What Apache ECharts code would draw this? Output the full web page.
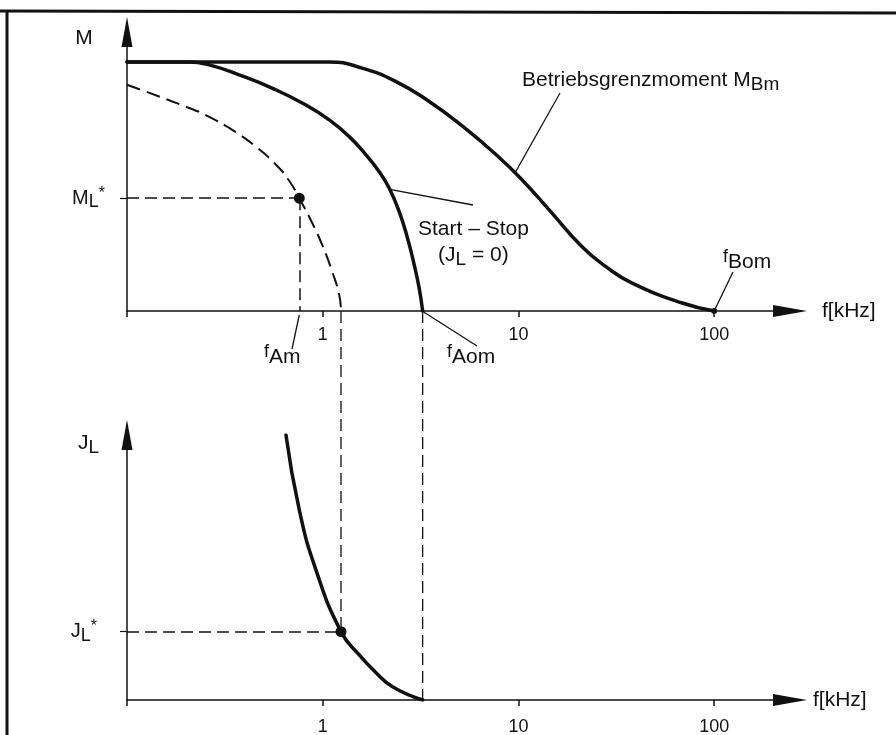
<!DOCTYPE html>
<html>
<head>
<meta charset="utf-8">
<title>Schrittmotor: Grenzmomente und Lastträgheit</title>
<script src="https://cdn.jsdelivr.net/npm/echarts@6/dist/echarts.min.js"></script>
<style>
  html, body { margin: 0; padding: 0; background: #fff; }
  #chart { width: 896px; height: 735px; }
</style>
</head>
<body>
<div id="chart"></div>
<script>
// Frequenzachse (logarithmisch, kHz)
const fTicks = [1, 10, 100];
const fMin = 0.1;
const fMax = 244;

// Betriebsgrenzmoment M_Bm
const fBm = [0.1, 1.08, 1.59, 2.37, 3.5, 5.16, 7.7, 10.45, 14.35, 21.2, 28.1, 38.1, 68.7, 100];
const mBm = [1, 1, 0.975, 0.921, 0.841, 0.743, 0.627, 0.526, 0.406, 0.257, 0.177, 0.112, 0.032, 0];

// Start-Stop-Kennlinie (J_L = 0)
const fSs = [0.1, 0.208, 0.263, 0.374, 0.554, 0.821, 1.08, 1.366, 1.663, 1.944, 2.187, 2.459, 2.712, 2.934, 3.112, 3.24];
const mSs = [1, 1, 0.988, 0.948, 0.894, 0.827, 0.767, 0.7, 0.627, 0.559, 0.493, 0.399, 0.292, 0.185, 0.091, 0];

// Start-Stop-Kennlinie mit Last J_L* (gestrichelt)
const fSsLast = [0.1, 0.208, 0.263, 0.345, 0.457, 0.579, 0.675, 0.759, 0.884, 0.994, 1.118, 1.214, 1.24];
const mSsLast = [0.908, 0.815, 0.779, 0.727, 0.659, 0.586, 0.522, 0.453, 0.353, 0.265, 0.158, 0.064, 0];

// Lastträgheitsmoment J_L über der Startfrequenz
const fJ = [0.649, 0.759, 0.923, 1.24, 1.536, 1.855, 2.273, 3.24];
const jL = [1, 0.717, 0.491, 0.258, 0.17, 0.106, 0.05, 0];

// markierte Punkte
const mLStar = 0.453, fAm = 0.759;
const jLStar = 0.258, fA = 1.24;
const fAom = 3.24, fBom = 100;
const mMax = 1.12, jMax = 1;

const FONT = '"Liberation Sans", Arial, Helvetica, sans-serif';
const INK = '#111';

const zip = (xs, ys) => xs.map((x, i) => [x, ys[i]]);

// Wert auf einer Kennlinie (linear in log f)
function onCurve(fs, ys, f) {
  const lf = Math.log10(f);
  for (let i = 1; i < fs.length; i++) {
    if (f <= fs[i]) {
      const a = Math.log10(fs[i - 1]), b = Math.log10(fs[i]);
      return ys[i - 1] + (lf - a) / (b - a) * (ys[i] - ys[i - 1]);
    }
  }
  return ys[ys.length - 1];
}

const axisLineStyle = { color: INK, width: 1.5 };

const labelRich = {
  b: { fontSize: 20, lineHeight: 26, color: INK, fontFamily: FONT },
  s: { fontSize: 18, lineHeight: 14, verticalAlign: 'bottom', color: INK, fontFamily: FONT },
  p: { fontSize: 16, lineHeight: 14, verticalAlign: 'top', color: INK, fontFamily: FONT }
};

function freqAxis(gridIndex, labelMargin, nameGap) {
  return {
    type: 'log',
    logBase: 10,
    gridIndex: gridIndex,
    min: fMin,
    max: fMax,
    axisLine: {
      show: true,
      onZero: false,
      symbol: ['none', 'triangle'],
      symbolSize: [12, 34],
      lineStyle: axisLineStyle
    },
    axisTick: {
      show: true,
      customValues: [fMin].concat(fTicks),
      length: 6,
      lineStyle: { color: INK, width: 1.5 }
    },
    axisLabel: {
      color: INK,
      fontSize: 18,
      fontFamily: FONT,
      margin: labelMargin,
      customValues: fTicks,
      formatter: v => String(Math.round(v))
    },
    splitLine: { show: false },
    minorTick: { show: false },
    name: 'f[kHz]',
    nameLocation: 'end',
    nameGap: nameGap,
    nameTextStyle: { color: INK, fontSize: 21, fontFamily: FONT }
  };
}

function loadAxis(gridIndex, max, star, text, margin) {
  return {
    type: 'value',
    gridIndex: gridIndex,
    min: 0,
    max: max,
    axisLine: {
      show: true,
      onZero: false,
      symbol: ['none', 'triangle'],
      symbolSize: [11, 30],
      lineStyle: axisLineStyle
    },
    axisTick: { show: true, customValues: [star], length: 7, lineStyle: { color: INK, width: 1.2 } },
    axisLabel: {
      show: true,
      customValues: [star],
      margin: margin,
      formatter: () => text,
      rich: labelRich
    },
    splitLine: { show: false }
  };
}

const curveStyle = { color: INK, width: 3.5, cap: 'round' };

const chart = echarts.init(document.getElementById('chart'));

chart.setOption({
  animation: false,
  backgroundColor: '#fff',
  grid: [
    { left: 127, top: 32, width: 663, height: 279, outerBoundsMode: 'none' },
    { left: 127, top: 435, width: 663, height: 265, outerBoundsMode: 'none' }
  ],
  xAxis: [freqAxis(0, 15, 32), freqAxis(1, 18, 23)],
  yAxis: [
    loadAxis(0, mMax, mLStar, '{b|M}{s|L}{p|*}', 22),
    loadAxis(1, jMax, jLStar, '{b|J}{s|L}{p|*}', 30)
  ],
  series: [
    {
      name: 'Betriebsgrenzmoment',
      type: 'line',
      xAxisIndex: 0, yAxisIndex: 0,
      data: zip(fBm, mBm),
      smooth: 0.5,
      showSymbol: false,
      lineStyle: curveStyle
    },
    {
      name: 'Start-Stop',
      type: 'line',
      xAxisIndex: 0, yAxisIndex: 0,
      data: zip(fSs, mSs),
      smooth: 0.5,
      showSymbol: false,
      lineStyle: curveStyle
    },
    {
      name: 'Start-Stop mit Last',
      type: 'line',
      xAxisIndex: 0, yAxisIndex: 0,
      data: zip(fSsLast, mSsLast),
      smooth: 0.5,
      showSymbol: false,
      lineStyle: { color: INK, width: 2, type: [14, 7] },
      markLine: {
        silent: true,
        symbol: ['none', 'none'],
        label: { show: false },
        lineStyle: { color: INK, width: 1.5, type: [12, 6] },
        data: [
          [{ coord: [fMin, mLStar] }, { coord: [fAm, mLStar] }],
          [{ coord: [fAm, mLStar] }, { coord: [fAm, 0] }]
        ]
      }
    },
    {
      name: 'Punkte oben',
      type: 'scatter',
      xAxisIndex: 0, yAxisIndex: 0,
      itemStyle: { color: INK, opacity: 1 },
      data: [
        { value: [fAm, mLStar], symbolSize: 11 },
        { value: [fBom, 0], symbolSize: 6 }
      ]
    },
    {
      name: 'J_L',
      type: 'line',
      xAxisIndex: 1, yAxisIndex: 1,
      data: zip(fJ, jL),
      smooth: 0.5,
      showSymbol: false,
      lineStyle: curveStyle,
      markLine: {
        silent: true,
        symbol: ['none', 'none'],
        label: { show: false },
        lineStyle: { color: INK, width: 1.5, type: [12, 6] },
        data: [
          [{ coord: [fMin, jLStar] }, { coord: [fA, jLStar] }]
        ]
      }
    },
    {
      name: 'Punkt unten',
      type: 'scatter',
      xAxisIndex: 1, yAxisIndex: 1,
      itemStyle: { color: INK, opacity: 1 },
      data: [{ value: [fA, jLStar], symbolSize: 11 }]
    }
  ]
});

// Beschriftungen, Hinweislinien, Rahmen
const pxTop = p => chart.convertToPixel({ gridIndex: 0 }, p);
const pxBot = p => chart.convertToPixel({ gridIndex: 1 }, p);

const textRich = {
  b: { fontSize: 21, lineHeight: 28, fill: INK, fontFamily: FONT },
  s: { fontSize: 19, lineHeight: 14, verticalAlign: 'bottom', fill: INK, fontFamily: FONT },
  p: { fontSize: 18, lineHeight: 18, verticalAlign: 'top', fill: INK, fontFamily: FONT }
};

function label(x, y, text, align) {
  return {
    type: 'text',
    silent: true,
    style: { x: x, y: y, text: text, align: align || 'left', verticalAlign: 'middle', rich: textRich }
  };
}

function line(a, b, width, dash) {
  return {
    type: 'line',
    silent: true,
    shape: { x1: a[0], y1: a[1], x2: b[0], y2: b[1] },
    style: { stroke: INK, lineWidth: width, lineDash: dash || null }
  };
}

const pAm = pxTop([fAm, 0]);
const pAom = pxTop([fAom, 0]);
const pBom = pxTop([fBom, 0]);
const pSs = pxTop([2.2, onCurve(fSs, mSs, 2.2)]);
const pBm = pxTop([9.6, onCurve(fBm, mBm, 9.6)]);

chart.setOption({
  graphic: [
    // Rahmen
    line([0, 11], [896, 13], 3),
    line([7, 10], [7, 735], 3),
    // Querverbindungen zwischen den Diagrammen
    line(pxTop([fA, 0]), pxBot([fA, jLStar]), 1.3, [12, 6]),
    line(pAom, pxBot([fAom, 0]), 1.3, [12, 6]),
    // Hinweislinien
    line([292, 349], [pAm[0], pAm[1] + 4], 1.3),
    line(pSs, [473, 205], 1.3),
    line([pAom[0] + 1, pAom[1] + 1], [477, 346], 1.3),
    line([560, 93], pBm, 1.3),
    line(pBom, [733, 272], 1.3),
    // Texte
    label(84, 38, '{b|M}', 'center'),
    label(522, 80, '{b|Betriebsgrenzmoment M}{s|Bm}'),
    label(418, 229, '{b|Start – Stop}'),
    label(438, 255, '{b|(J}{s|L}{b| = 0)}'),
    label(264, 357, '{p|f}{b|Am}'),
    label(447, 357, '{p|f}{b|Aom}'),
    label(723, 262, '{p|f}{b|Bom}'),
    label(78, 443, '{b|J}{s|L}')
  ]
});
</script>
</body>
</html>
